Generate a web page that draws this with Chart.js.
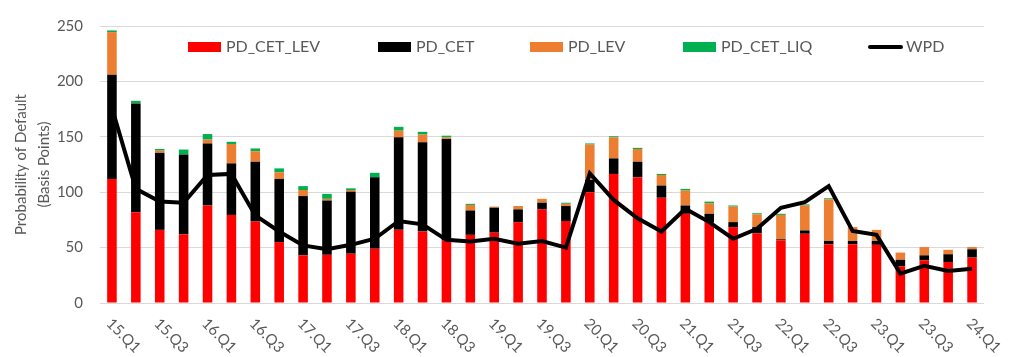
<!DOCTYPE html>
<html>
<head>
<meta charset="utf-8">
<script src="https://cdn.jsdelivr.net/npm/chart.js@4.4.0/dist/chart.umd.min.js"></script>
<style>
  html, body { margin: 0; padding: 0; background: #ffffff; }
  #wrap { width: 1018px; height: 357px; }
</style>
</head>
<body>
<div id="wrap"><canvas id="c" width="1018" height="357"></canvas></div>
<script>
const categories = [
  '15.Q1','15.Q2','15.Q3','15.Q4',
  '16.Q1','16.Q2','16.Q3','16.Q4',
  '17.Q1','17.Q2','17.Q3','17.Q4',
  '18.Q1','18.Q2','18.Q3','18.Q4',
  '19.Q1','19.Q2','19.Q3','19.Q4',
  '20.Q1','20.Q2','20.Q3','20.Q4',
  '21.Q1','21.Q2','21.Q3','21.Q4',
  '22.Q1','22.Q2','22.Q3','22.Q4',
  '23.Q1','23.Q2','23.Q3','23.Q4',
  '24.Q1'
];
// stacked components (basis points)
const pdCetLev = [112, 82, 66, 62, 88, 79.5, 73.5, 55, 43, 43.5, 44.5, 49,
                  66, 64.5, 56.5, 61.5, 63.5, 73, 84.5, 74, 100, 116.5, 113.5, 95,
                  80.5, 73, 68.5, 63, 56.5, 62.5, 53, 53, 52.5, 33, 38.5, 37, 41];
const pdCet    = [94, 98, 69.5, 72, 56, 46.5, 54, 57, 53.5, 49, 56, 64.5,
                  83.5, 80.5, 91.5, 22, 22.5, 11.5, 6, 13.5, 11, 14, 14, 11,
                  7.5, 7.5, 4.5, 5.5, 1, 3, 3, 3, 3.5, 6, 4.5, 7, 7.5];
const pdLev    = [38.5, 0.5, 2, 0, 3.5, 17.5, 9.5, 6, 5.5, 1.5, 1.5, 0,
                  6, 7, 1.5, 5, 1, 3, 3.5, 2, 32, 19, 11.5, 9.5,
                  13.5, 9.5, 14, 11.5, 22, 22.5, 37.5, 12.5, 10, 6.5, 7.5, 4, 2];
const pdCetLiq = [1.5, 2, 1.5, 4.5, 5, 2, 2.5, 3.5, 3.5, 4.5, 1.5, 4,
                  3.5, 2.5, 1.5, 1, 0, 0, 0, 1, 1, 1, 1, 1,
                  1.5, 1.5, 1, 1, 1, 1, 1, 0, 0, 0, 0, 0, 0];
const wpd      = [176, 103, 91.5, 90.5, 115.5, 116.5, 79, 64.5, 52, 48.5, 52.5, 58,
                  74, 71, 57, 55.5, 58, 53.5, 56, 50, 117, 93, 76.5, 64.5,
                  85, 73, 58, 67, 86, 91, 105.5, 65, 61.5, 26.5, 33.5, 29, 31];
const yTicks = [0, 50, 100, 150, 200, 250];
const yTitle = ['Probability of Default', '(Basis Points)'];

const FONT = 'Lato, "Open Sans", sans-serif';
const TEXT = '#595959';

const customLegendAndLabels = {
  id: 'customLegendAndLabels',
  afterDraw(chart) {
    const ctx = chart.ctx;
    const xs = chart.scales.x;
    const area = chart.chartArea;
    // rotated x labels (every other category)
    ctx.save();
    ctx.fillStyle = TEXT;
    ctx.font = '15px ' + FONT;
    ctx.textAlign = 'left';
    ctx.textBaseline = 'middle';
    categories.forEach((lab, i) => {
      if (i % 2 !== 0) return;
      const x = xs.getPixelForValue(i);
      ctx.save();
      ctx.translate(x - 3, area.bottom + 18);
      ctx.rotate(Math.PI / 4);
      ctx.fillText(lab, 0, 0);
      ctx.restore();
    });
    ctx.restore();
    // legend inside plot area
    const order = ['PD_CET_LEV', 'PD_CET', 'PD_LEV', 'PD_CET_LIQ', 'WPD'];
    const starts = [188, 378, 530, 683, 868];
    const ly = 47;
    ctx.save();
    ctx.font = '16px ' + FONT;
    ctx.textBaseline = 'middle';
    ctx.textAlign = 'left';
    order.forEach((name, k) => {
      const ds = chart.data.datasets.find(d => d.label === name);
      const x0 = starts[k];
      if (ds.type === 'line') {
        ctx.strokeStyle = ds.borderColor;
        ctx.lineWidth = 4;
        ctx.lineCap = 'round';
        ctx.beginPath();
        ctx.moveTo(x0 + 2, ly);
        ctx.lineTo(x0 + 33, ly);
        ctx.stroke();
      } else {
        ctx.fillStyle = ds.backgroundColor;
        ctx.fillRect(x0, ly - 5, 33, 10);
      }
      ctx.fillStyle = TEXT;
      ctx.fillText(name, x0 + 38, ly);
    });
    ctx.restore();
  }
};

new Chart(document.getElementById('c'), {
  data: {
    labels: categories,
    datasets: [
      { type: 'line', label: 'WPD', data: wpd, borderColor: '#000000', backgroundColor: '#000000',
        borderWidth: 4, pointRadius: 0, tension: 0, order: 0 },
      { type: 'bar', label: 'PD_CET_LEV', data: pdCetLev, backgroundColor: '#FF0000', order: 1, stack: 's' },
      { type: 'bar', label: 'PD_CET', data: pdCet, backgroundColor: '#000000', order: 1, stack: 's' },
      { type: 'bar', label: 'PD_LEV', data: pdLev, backgroundColor: '#ED7D31', order: 1, stack: 's' },
      { type: 'bar', label: 'PD_CET_LIQ', data: pdCetLiq, backgroundColor: '#00B050', order: 1, stack: 's' }
    ]
  },
  options: {
    responsive: false,
    animation: false,
    layout: { padding: { left: 0, right: 34, top: 17, bottom: 54 } },
    datasets: { bar: { categoryPercentage: 1.0, barPercentage: 0.4 } },
    plugins: { legend: { display: false }, tooltip: { enabled: false } },
    scales: {
      x: {
        stacked: true,
        grid: { display: false, drawTicks: false },
        border: { display: false },
        ticks: { display: false }
      },
      y: {
        stacked: true,
        min: 0, max: 250,
        afterFit(scale) { scale.width = 100; },
        afterBuildTicks(scale) { scale.ticks = yTicks.map(v => ({ value: v })); },
        grid: { color: '#D9D9D9', lineWidth: 1, drawTicks: false },
        border: { display: false },
        ticks: { color: TEXT, font: { family: FONT, size: 15 }, padding: 17 },
        title: { display: true, text: yTitle, color: TEXT, font: { family: FONT, size: 15, lineHeight: 1.53 },
                 padding: { top: 10, bottom: 0 } }
      }
    }
  },
  plugins: [customLegendAndLabels]
});
</script>
</body>
</html>
